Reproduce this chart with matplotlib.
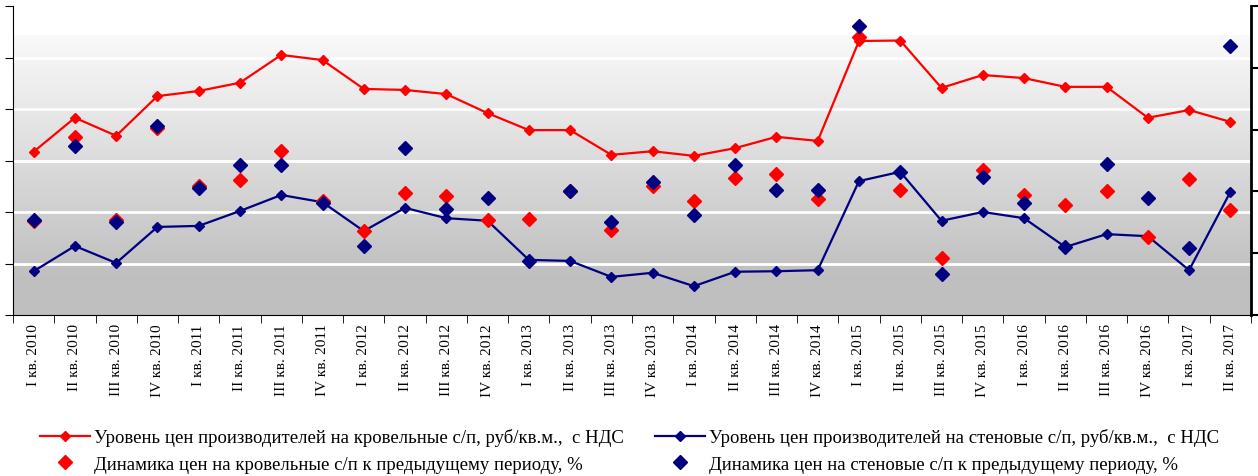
import numpy as np
import matplotlib
matplotlib.use("Agg")
import matplotlib.pyplot as plt
from matplotlib.lines import Line2D

plt.rcParams['font.family'] = ['Liberation Serif', 'DejaVu Serif']

# кварталы
quarters = ["I", "II", "III", "IV"]
labels = []
for yr in range(2010, 2018):
    for q in quarters:
        labels.append(f"{q} кв. {yr}")
labels = labels[:30]

# уровень цен, руб/кв.м. (левая ось)
roof_price = [317, 383, 348, 425, 435, 451, 505, 495, 439, 437, 429, 392, 359, 359, 311,
              318, 309, 324, 346, 338, 532, 533, 441, 466, 460, 443, 443, 383, 398, 375]
wall_price = [85, 134, 101, 171, 173, 202, 233, 219, 163, 208, 188, 183, 107, 105, 74,
              82, 56, 84, 85, 87, 260, 278, 183, 200, 188, 132, 157, 153, 87, 239]

# динамика к предыдущему периоду, % (правая ось)
roof_dyn = [97.6, 104.4, 97.7, 105.1, 100.4, 100.9, 103.3, 99.2, 96.8, 99.9, 99.6, 97.7, 97.8, 100.0, 96.9,
            100.4, 99.2, 101.1, 101.4, 99.4, 112.5, 100.1, 94.6, 101.7, 99.7, 98.9, 100.0, 96.3, 101.0, 98.5]
wall_dyn = [97.7, 103.7, 97.5, 105.3, 100.3, 102.1, 102.1, 99.1, 95.6, 103.5, 98.6, 99.5, 94.4, 100.0, 97.5,
            100.8, 98.1, 102.1, 100.1, 100.1, 113.4, 101.6, 93.3, 101.2, 99.1, 95.5, 102.2, 99.5, 95.4, 111.8]

RED = "#ff0000"
NAVY = "#000080"

W, H = 1258, 477
fig = plt.figure(figsize=(W / 100, H / 100), dpi=100)
ax = fig.add_axes([13 / W, (H - 316) / H, 1238 / W, 309 / H])
ax2 = ax.twinx()

x = np.arange(len(labels))

# фон с градиентом (сверху белая полоса)
top_frac = (316 - 35) / 309
t = np.linspace(1, 0, 300)
g = np.where(t > top_frac, 1.0,
             np.clip(0.75 + (0.98 - 0.75) * (t - 0.12) / (top_frac - 0.12), 0.75, 0.98))
img = np.dstack([g, g, g])[0][:, None, :]
ax.imshow(img, extent=[0, 1, 0, 1], transform=ax.transAxes, aspect="auto", zorder=0)

ax.set_xlim(-0.5, len(labels) - 0.5)
ax.set_ylim(0, 600)
ax.set_yticks(np.arange(0, 601, 100))
ax.set_yticklabels([])
for yv in range(100, 600, 100):
    ax.axhline(yv, color="white", lw=2, zorder=1)

ax2.set_ylim(90, 115)
ax2.set_yticks(np.arange(90, 116, 5))
ax2.set_yticklabels([])

ax.plot(x, roof_price, color=RED, lw=1.6, marker="D", ms=5.5, zorder=3)
ax.plot(x, wall_price, color=NAVY, lw=1.6, marker="D", ms=5.5, zorder=3)
ax2.plot(x, roof_dyn, ls="none", marker="D", ms=7.5, color=RED, zorder=4)
ax2.plot(x, wall_dyn, ls="none", marker="D", ms=7.5, color=NAVY, zorder=5)

ax.set_xticks(x)
ax.set_xticklabels(labels, rotation=90, fontsize=11)
ax.set_xticks(np.arange(-0.5, len(labels), 1), minor=True)
ax.tick_params(axis="x", which="major", length=0, pad=6)
ax.tick_params(axis="x", which="minor", length=6, direction="out")
ax.tick_params(axis="y", length=6, direction="out")
ax2.tick_params(axis="y", length=6, direction="out", width=1.5)

for a in (ax, ax2):
    a.spines["top"].set_visible(False)
ax2.spines["left"].set_visible(False)
ax2.spines["bottom"].set_visible(False)
ax2.spines["right"].set_linewidth(2)
ax.spines["right"].set_visible(False)

handles = [
    Line2D([], [], color=RED, lw=1.6, marker="D", ms=5.5),
    Line2D([], [], ls="none", marker="D", ms=7.5, color=RED),
    Line2D([], [], color=NAVY, lw=1.6, marker="D", ms=5.5),
    Line2D([], [], ls="none", marker="D", ms=7.5, color=NAVY),
]
names = [
    "Уровень цен производителей на кровельные с/п, руб/кв.м.,  с НДС",
    "Динамика цен на кровельные с/п к предыдущему периоду, %",
    "Уровень цен производителей на стеновые с/п, руб/кв.м.,  с НДС",
    "Динамика цен на стеновые с/п к предыдущему периоду, %",
]
fig.legend(handles, names, ncol=2, loc="upper left", bbox_to_anchor=(32 / W, 1 - 422 / H),
           borderaxespad=0, frameon=False, fontsize=13.5, handlelength=2.7,
           columnspacing=1.65, labelspacing=0.5, handletextpad=0.2)

fig.savefig("out.png", dpi=100)
